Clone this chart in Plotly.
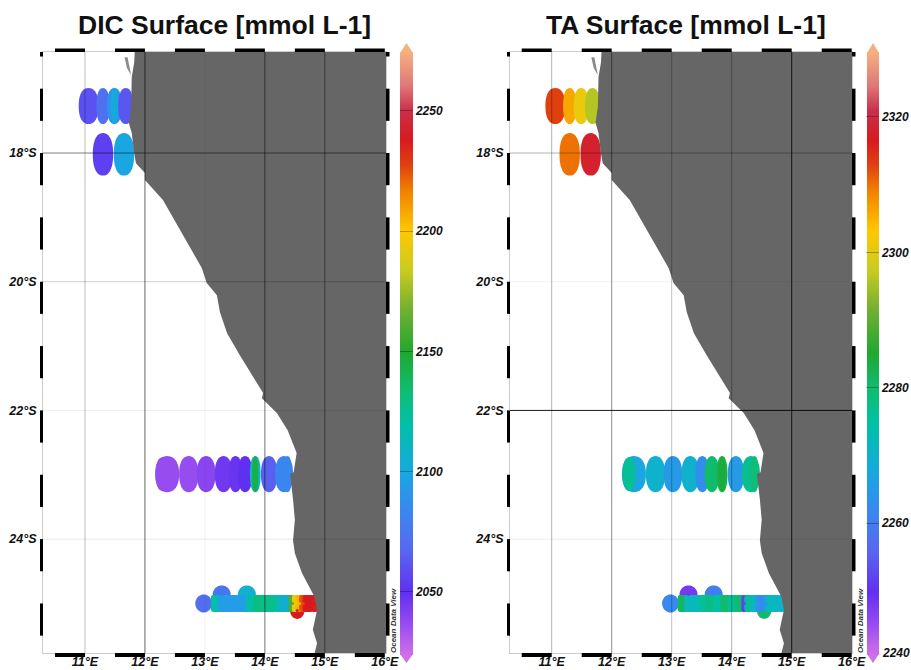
import numpy as np
import plotly.graph_objects as go
from plotly.colors import hex_to_rgb

# Coastline (lon, lat) of the land mass
coast_lon = [11.83, 11.82, 11.78, 11.77, 11.73, 11.78, 11.82, 11.85, 12.0, 12.0, 12.3, 12.47, 12.72, 12.95, 13.03,
             13.2, 13.25, 13.37, 13.58, 13.97, 13.95, 14.2, 14.38, 14.45, 14.53, 14.48, 14.42, 14.47, 14.5, 14.47,
             14.5, 14.62, 14.83, 14.87, 14.8, 14.87, 14.83, 16.1, 16.1]
coast_lat = [-16.43, -16.6, -16.82, -17.28, -17.53, -17.69, -18.0, -18.16, -18.31, -18.42, -18.73, -19.01, -19.43,
             -19.79, -20.02, -20.21, -20.47, -20.8, -21.14, -21.73, -21.81, -22.04, -22.31, -22.46, -22.66, -22.96,
             -22.99, -23.39, -23.7, -24.02, -24.22, -24.53, -24.9, -25.1, -25.41, -25.62, -25.77, -25.77, -16.43]
islet_lon = [11.66, 11.71, 11.77, 11.70]
islet_lat = [-16.51, -16.51, -16.79, -16.68]

# Stations, in drawing order
st_lon = [11.06, 11.30, 11.49, 11.49, 11.68, 11.30, 11.65,
          12.37, 12.29, 12.73, 13.02, 13.31, 13.51, 13.67, 13.84, 13.84, 14.07, 14.32, 14.38,
          13.28, 13.70, 14.54, 12.98, 13.18, 13.30, 13.42, 13.55, 13.66, 13.78, 13.90, 14.02, 14.12, 14.21,
          14.30, 14.40, 14.46, 14.52, 14.58, 14.64, 14.72, 14.82, 14.88]
st_lat = [-17.27, -17.27, -17.27, -17.27, -17.27, -18.02, -18.02,
          -22.99, -22.99, -22.99, -22.99, -22.99, -22.99, -22.99, -22.99, -22.99, -22.99, -22.99, -22.99,
          -24.86, -24.86, -25.11, -25.0, -25.0, -25.0, -25.0, -25.0, -25.0, -25.0, -25.0, -25.0, -25.0, -25.0,
          -25.0, -25.0, -25.0, -25.0, -25.0, -25.0, -25.0, -25.0, -25.0]
dic_values = [2060, 2072, 2089, 2101, 2062, 2055, 2099,
              2037, 2037, 2037, 2040, 2046, 2048, 2050, 2112, 2145, 2065, 2083, 2083,
              2074, 2106, 2238, 2070, 2119, 2095, 2094, 2094, 2096, 2120, 2130, 2128, 2127, 2122,
              2108, 2105, 2160, 2195, 2205, 2225, 2238, 2238, 2236]
ta_values = [2313, 2306, 2301, 2301, 2296, 2310, 2318,
             2267, 2276, 2270, 2265, 2270, 2263, 2280, 2283, 2284, 2265, 2277, 2279,
             2248, 2260, 2280, 2262, 2281, 2272, 2272, 2276, 2278, 2275, 2280, 2276, 2280, 2252,
             2276, 2272, 2264, 2262, 2264, 2272, 2272, 2271, 2270]

# Station footprint half-widths, half-heights (degrees) and outline squareness
st_rx = [0.165, 0.11, 0.125, 0.06, 0.125, 0.17, 0.17,
         0.2, 0.11, 0.16, 0.155, 0.145, 0.115, 0.12, 0.09, 0.05, 0.135, 0.15, 0.07,
         0.15, 0.15, 0.12, 0.14, 0.08, 0.09, 0.09, 0.09, 0.09, 0.09, 0.09, 0.09, 0.07, 0.05,
         0.09, 0.09, 0.07, 0.07, 0.07, 0.07, 0.09, 0.09, 0.09]
st_ry = [0.28] * 5 + [0.33] * 2 + [0.28, 0.26] + [0.28] * 10 + [0.14, 0.14, 0.13] + [0.14] + [0.132] * 19
st_n = [2.3] * 7 + [2.3] * 12 + [2, 2, 2, 2] + [6] * 17 + [2.2, 2.2]

colorscale_pos = [0, .058, .104, .174, .24, .303, .381, .44, .502, .572, .638, .703, .771, .813, .854, .902, .945, 1]
colorscale_col = ['#d070e8', '#9048f0', '#6030f0', '#5868f0', '#3888f0', '#18a8e0', '#00c0a8', '#10bc70', '#20a830',
                  '#70b030', '#c8cc20', '#ffc800', '#f08000', '#e04010', '#d81a20', '#c8304a', '#e07878', '#f5b080']
COLORSCALE = [[a, b] for a, b in zip(colorscale_pos, colorscale_col)]
_rgb = np.array([hex_to_rgb(c) for c in colorscale_col], dtype=float)


def scale_colour(f):
    r, g, b = (np.interp(f, colorscale_pos, _rgb[:, i]) for i in range(3))
    return f'rgb({r:.0f},{g:.0f},{b:.0f})'


_t = np.linspace(0, 2 * np.pi, 49)[:-1]


def footprint(lon, lat, rx, ry, n):
    xs = lon + rx * np.sign(np.cos(_t)) * np.abs(np.cos(_t)) ** (2 / n)
    ys = lat + ry * np.sign(np.sin(_t)) * np.abs(np.sin(_t)) ** (2 / n)
    return 'M' + ' L'.join(f'{a:.4f},{b:.4f}' for a, b in zip(xs, ys)) + ' Z'


lon_ticks = [11, 12, 13, 14, 15, 16]
lat_ticks = [-18, -20, -22, -24]
lon_labels = ['11°E', '12°E', '13°E', '14°E', '15°E', '16°E']
lat_labels = ['18°S', '20°S', '22°S', '24°S']
dic_ticks = [2050, 2100, 2150, 2200, 2250]
ta_ticks = [2260, 2280, 2300, 2320]

W, H = 911, 670
FONT = 'Liberation Sans'
LAND = '#666666'

PANELS = [
    dict(ax='', title='DIC Surface [mmol L-1]', tx=224.5, px=(43, 386), lon=(10.30, 16.02), vals=dic_values,
         rng=(2023.8, 2274.5), cb=(400, 413), ticks=dic_ticks, odv=393,
         gx=[.25, .6, .05, .55, .45], gy=[.5, .2, .07, .1]),
    dict(ax='2', title='TA Surface [mmol L-1]', tx=686, px=(510, 852), lon=(10.305, 16.005), vals=ta_values,
         rng=(2240.5, 2329.6), cb=(867, 879), ticks=ta_ticks, odv=860,
         gx=[.3, .45, .25, .3, .8], gy=[.3, .05, .9, .08]),
]
LAT_RANGE = (-25.77, -16.43)
PY = (52, 653)
CB_Y = (52, 655)

fig = go.Figure()
shapes, annotations = [], []
tickfont = dict(family=FONT, size=12.5, color='#111111', weight=700, style='italic')
cbfont = dict(family=FONT, size=12, color='#111111', weight=700, style='italic')

for p in PANELS:
    xa, ya = 'x' + p['ax'], 'y' + p['ax']
    layout_x, layout_y = 'xaxis' + p['ax'], 'yaxis' + p['ax']
    fig.update_layout({
        layout_x: dict(domain=[p['px'][0] / W, p['px'][1] / W], range=list(p['lon']), anchor=ya, showgrid=False,
                       zeroline=False, tickvals=lon_ticks, ticktext=lon_labels, tickfont=tickfont, ticks='',
                       showline=True, mirror=True, linecolor='#cccccc', linewidth=1, ticklabelstandoff=-3),
        layout_y: dict(domain=[1 - PY[1] / H, 1 - PY[0] / H], range=list(LAT_RANGE), anchor=xa, showgrid=False,
                       zeroline=False, tickvals=lat_ticks, ticktext=lat_labels, tickfont=tickfont, ticks='',
                       showline=True, mirror=True, linecolor='#cccccc', linewidth=1, ticklabelstandoff=3),
    })
    # station footprints, coloured through the same scale as the colour bar
    lo, hi = p['rng']
    for lon, lat, rx, ry, n, v in zip(st_lon, st_lat, st_rx, st_ry, st_n, p['vals']):
        col = scale_colour((v - lo) / (hi - lo))
        shapes.append(dict(type='path', xref=xa, yref=ya, path=footprint(lon, lat, rx, ry, n),
                           fillcolor=col, line=dict(width=0), layer='below'))
    # the stations themselves, carrying the colour bar
    fig.add_trace(go.Scatter(
        x=st_lon, y=st_lat, xaxis=xa, yaxis=ya, mode='markers', showlegend=False, hoverinfo='x+y+text',
        text=p['vals'],
        marker=dict(size=3, color=p['vals'], cmin=lo, cmax=hi, colorscale=COLORSCALE, line=dict(width=0),
                    colorbar=dict(x=p['cb'][0] / W, xanchor='left', xpad=0, ypad=0, y=1 - CB_Y[0] / H, yanchor='top',
                                  len=(CB_Y[1] - CB_Y[0]) / H, lenmode='fraction',
                                  thickness=p['cb'][1] - p['cb'][0], thicknessmode='pixels', outlinewidth=0,
                                  tickvals=p['ticks'], ticks='inside', ticklen=13, tickwidth=1,
                                  tickcolor='rgba(0,0,0,0.3)', tickfont=cbfont))))
    fig.add_trace(go.Scatter(x=coast_lon, y=coast_lat, xaxis=xa, yaxis=ya, mode='lines', fill='toself',
                             fillcolor=LAND, line=dict(width=0), showlegend=False, hoverinfo='skip'))
    fig.add_trace(go.Scatter(x=islet_lon, y=islet_lat, xaxis=xa, yaxis=ya, mode='lines', fill='toself',
                             fillcolor='#8a8a8a', line=dict(width=0), showlegend=False, hoverinfo='skip'))
    # graticule, each line with its own strength, on top of land
    for lon, a in zip(lon_ticks[:5], p['gx']):
        shapes.append(dict(type='line', xref=xa, yref=ya + ' domain', x0=lon, x1=lon, y0=0, y1=1,
                           line=dict(color=f'rgba(0,0,0,{a})', width=1), layer='above'))
    for lat, a in zip(lat_ticks, p['gy']):
        shapes.append(dict(type='line', xref=xa + ' domain', yref=ya, x0=0, x1=1, y0=lat, y1=lat,
                           line=dict(color=f'rgba(0,0,0,{a})', width=1), layer='above'))
    # alternating frame bars
    pw, ph = p['px'][1] - p['px'][0], PY[1] - PY[0]
    for k in range(10, 17):
        x0, x1 = max(k + .5, p['lon'][0]), min(k + 1, p['lon'][1])
        if x0 < x1:
            for y0, y1 in [(-4 / ph, 0), (1, 1 + 3.5 / ph)]:
                shapes.append(dict(type='rect', xref=xa, yref=ya + ' domain', x0=x0, x1=x1, y0=y0, y1=y1,
                                   fillcolor='black', line=dict(width=0), layer='above'))
    for k in range(-16, -26, -1):
        y1, y0 = min(k + 0.0, LAT_RANGE[1]), max(k - .5, LAT_RANGE[0])
        if y0 < y1:
            for x0, x1 in [(-3 / pw, 0), (1, 1 + 3.5 / pw)]:
                shapes.append(dict(type='rect', xref=xa + ' domain', yref=ya, x0=x0, x1=x1, y0=y0, y1=y1,
                                   fillcolor='black', line=dict(width=0), layer='above'))
    # colour bar end arrows
    c0, c1 = p['cb'][0] / W, p['cb'][1] / W
    cm = (c0 + c1) / 2
    shapes.append(dict(type='path', xref='paper', yref='paper', fillcolor=colorscale_col[-1], line=dict(width=0),
                       path=f'M{c0},{1 - 53 / H} L{cm},{1 - 43 / H} L{c1},{1 - 53 / H} Z'))
    shapes.append(dict(type='path', xref='paper', yref='paper', fillcolor=colorscale_col[0], line=dict(width=0),
                       path=f'M{c0},{1 - 654 / H} L{cm},{1 - 663 / H} L{c1},{1 - 654 / H} Z'))
    annotations.append(dict(text=p['title'], x=p['tx'] / W, y=1 - 25 / H, xref='paper', yref='paper',
                            showarrow=False, xanchor='center', yanchor='middle',
                            font=dict(family=FONT, size=26.5, color='#111111', weight=700)))
    annotations.append(dict(text='Ocean Data View', x=p['odv'] / W, y=1 - 621 / H, xref='paper', yref='paper',
                            showarrow=False, textangle=-90, xanchor='center', yanchor='middle',
                            font=dict(family=FONT, size=8, color='#333333', weight=700, style='italic')))

# the lowest colour bar label sits at the bar's end, just past the scale minimum
annotations.append(dict(text='2240', x=882 / W, y=1 - 653 / H, xref='paper', yref='paper', showarrow=False,
                        xanchor='left', yanchor='middle', font=cbfont, borderpad=0, xshift=-1))

fig.update_layout(autosize=False, width=W, height=H, margin=dict(l=0, r=0, t=0, b=0, autoexpand=False),
                  paper_bgcolor='white', plot_bgcolor='white', shapes=shapes, annotations=annotations,
                  showlegend=False)
html = fig.to_html(config=dict(displayModeBar=False, responsive=False))
html = html.replace('<head>', '<head><style>html,body{margin:0;padding:0;overflow:hidden}</style>', 1)
with open('out.html', 'w', encoding='utf-8') as f:
    f.write(html)
